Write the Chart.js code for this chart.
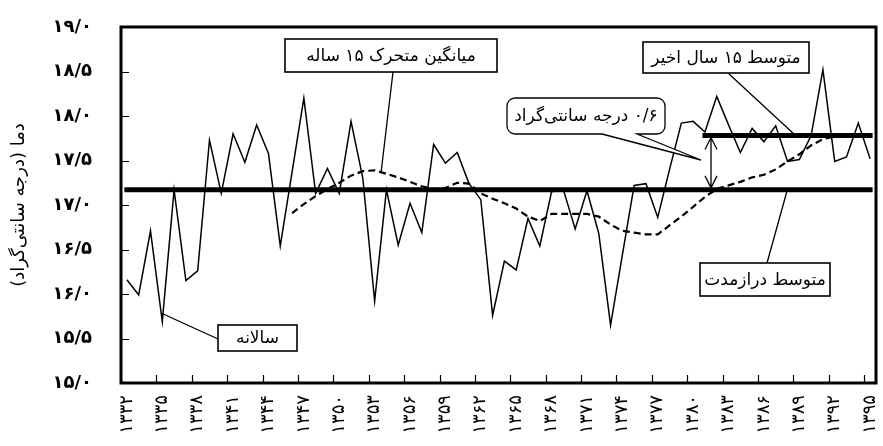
<!DOCTYPE html>
<html>
<head>
<meta charset="utf-8">
<script src="https://cdn.jsdelivr.net/npm/chart.js@4.4.1/dist/chart.umd.min.js"></script>
<style>
  html, body { margin: 0; padding: 0; background: #fff; }
  canvas { display: block; }
</style>
</head>
<body>
<canvas id="myChart" width="883" height="446" dir="rtl"></canvas>
<script>
// years 1332 .. 1395 (Persian calendar)
const years = [
  1332, 1333, 1334, 1335, 1336, 1337, 1338, 1339, 1340, 1341, 1342, 1343, 1344, 1345, 1346, 1347,
  1348, 1349, 1350, 1351, 1352, 1353, 1354, 1355, 1356, 1357, 1358, 1359, 1360, 1361, 1362, 1363,
  1364, 1365, 1366, 1367, 1368, 1369, 1370, 1371, 1372, 1373, 1374, 1375, 1376, 1377, 1378, 1379,
  1380, 1381, 1382, 1383, 1384, 1385, 1386, 1387, 1388, 1389, 1390, 1391, 1392, 1393, 1394, 1395
];

// annual mean temperature
const annual = [
  16.16, 15.99, 16.71, 15.69, 17.17, 16.15, 16.26, 17.73, 17.13, 17.80, 17.48, 17.90, 17.58, 16.54, 17.37, 18.20,
  17.13, 17.41, 17.13, 17.94, 17.30, 15.92, 17.17, 16.55, 17.02, 16.69, 17.68, 17.47, 17.59, 17.24, 17.06, 15.76,
  16.37, 16.27, 16.85, 16.54, 17.15, 17.17, 16.73, 17.16, 16.68, 15.65, 16.44, 17.22, 17.24, 16.86, 17.40, 17.92,
  17.94, 17.82, 18.22, 17.90, 17.59, 17.86, 17.71, 17.89, 17.49, 17.51, 17.78, 18.52, 17.49, 17.54, 17.92, 17.52
];

// 15 year moving average (starts at 1346)
const movingAvg = [
  null, null, null, null, null, null, null, null, null, null, null, null, null, null, 16.91, 17.01,
  17.10, 17.18, 17.25, 17.33, 17.38, 17.39, 17.35, 17.31, 17.26, 17.21, 17.18, 17.19, 17.25, 17.24, 17.13, 17.07,
  17.02, 16.96, 16.87, 16.82, 16.90, 16.90, 16.90, 16.90, 16.87, 16.78, 16.71, 16.69, 16.67, 16.67, 16.77, 16.87,
  16.98, 17.09, 17.18, 17.22, 17.26, 17.31, 17.34, 17.40, 17.49, 17.57, 17.67, 17.74, 17.77, 17.78, 17.79, 17.79
];

const longTermMean = 17.17;
const longTermSpan = ['1332', '1395'];
const recentMean = 17.78;
const recentSpan = ['1381', '1395'];

const yTicks = [15.0, 15.5, 16.0, 16.5, 17.0, 17.5, 18.0, 18.5, 19.0];

const faDigits = '۰۱۲۳۴۵۶۷۸۹';
const fa = s => String(s).replace(/\d/g, d => faDigits[d]);

const labels = years.map(String);
const FONT = 'DejaVu Sans';

// frame, inward tick marks, callouts
const decor = {
  id: 'decor',
  afterDraw(chart) {
    const ctx = chart.ctx;
    const a = chart.chartArea;
    const xs = chart.scales.x, ys = chart.scales.y;
    const step = xs.getPixelForValue(1) - xs.getPixelForValue(0);
    ctx.save();
    ctx.strokeStyle = '#000';

    // tick marks, pointing into the plot
    ctx.lineWidth = 1.2;
    ctx.beginPath();
    for (let i = 3; i < years.length; i += 3) {
      const x = Math.round(xs.getPixelForValue(i) - step / 2) + 0.5;
      ctx.moveTo(x, a.bottom);
      ctx.lineTo(x, a.bottom - 8);
    }
    yTicks.slice(1, -1).forEach(v => {
      const y = Math.round(ys.getPixelForValue(v)) + 0.5;
      ctx.moveTo(a.left, y);
      ctx.lineTo(a.left + 8, y);
    });
    ctx.stroke();

    // frame
    ctx.lineWidth = 3;
    ctx.strokeRect(a.left, a.top, a.right - a.left, a.bottom - a.top);

    // leader lines
    ctx.lineWidth = 1.3;
    const leaders = [
      [393, 72, 381, 173],
      [218, 339, 161, 313],
      [728, 73, 795, 135],
      [767, 263, 787, 191]
    ];
    ctx.beginPath();
    leaders.forEach(l => { ctx.moveTo(l[0], l[1]); ctx.lineTo(l[2], l[3]); });
    ctx.stroke();

    // double arrow between the two means
    const ax = 711;
    const yTop = ys.getPixelForValue(recentMean) + 2;
    const yBot = ys.getPixelForValue(longTermMean) - 2;
    ctx.beginPath();
    ctx.moveTo(ax, yTop); ctx.lineTo(ax, yBot);
    ctx.moveTo(ax - 6, yTop + 12); ctx.lineTo(ax, yTop); ctx.lineTo(ax + 6, yTop + 12);
    ctx.moveTo(ax - 6, yBot - 12); ctx.lineTo(ax, yBot); ctx.lineTo(ax + 6, yBot - 12);
    ctx.stroke();

    // rounded callout with wedge
    const c = { l: 507, r: 665, t: 98, b: 134, rad: 8 };
    ctx.beginPath();
    ctx.moveTo(c.l + c.rad, c.t);
    ctx.lineTo(c.r - c.rad, c.t);
    ctx.arcTo(c.r, c.t, c.r, c.t + c.rad, c.rad);
    ctx.lineTo(c.r, c.b - c.rad);
    ctx.arcTo(c.r, c.b, c.r - c.rad, c.b, c.rad);
    ctx.lineTo(637, c.b);
    ctx.lineTo(701, 160);
    ctx.lineTo(602, c.b);
    ctx.lineTo(c.l + c.rad, c.b);
    ctx.arcTo(c.l, c.b, c.l, c.b - c.rad, c.rad);
    ctx.lineTo(c.l, c.t + c.rad);
    ctx.arcTo(c.l, c.t, c.l + c.rad, c.t, c.rad);
    ctx.closePath();
    ctx.fillStyle = '#fff';
    ctx.fill();
    ctx.stroke();

    // square boxes
    const boxes = [
      { text: 'میانگین متحرک ۱۵ ساله', l: 285, r: 497, t: 39, b: 72 },
      { text: 'سالانه', l: 218, r: 297, t: 325, b: 351 },
      { text: 'متوسط ۱۵ سال اخیر', l: 643, r: 809, t: 42, b: 73 },
      { text: 'متوسط درازمدت', l: 700, r: 830, t: 263, b: 296 }
    ];
    ctx.lineWidth = 1.6;
    boxes.forEach(bx => {
      ctx.fillStyle = '#fff';
      ctx.fillRect(bx.l, bx.t, bx.r - bx.l, bx.b - bx.t);
      ctx.strokeRect(bx.l, bx.t, bx.r - bx.l, bx.b - bx.t);
    });

    ctx.fillStyle = '#000';
    ctx.font = '17px "' + FONT + '"';
    ctx.direction = 'rtl';
    ctx.textAlign = 'center';
    ctx.textBaseline = 'middle';
    boxes.forEach(bx => ctx.fillText(bx.text, (bx.l + bx.r) / 2, (bx.t + bx.b) / 2 + 1));
    ctx.fillText('۰/۶ درجه سانتی‌گراد', (c.l + c.r) / 2, (c.t + c.b) / 2 + 1);
    ctx.restore();
  }
};

new Chart(document.getElementById('myChart'), {
  type: 'line',
  data: {
    labels: labels,
    datasets: [
      {
        data: annual,
        borderColor: '#000',
        borderWidth: 1.5,
        pointRadius: 0,
        tension: 0
      },
      {
        data: movingAvg,
        borderColor: '#000',
        borderWidth: 2.2,
        borderDash: [7, 4],
        pointRadius: 0,
        tension: 0
      },
      {
        data: longTermSpan.map(x => ({ x: x, y: longTermMean })),
        borderColor: '#000',
        borderWidth: 5,
        borderCapStyle: 'square',
        pointRadius: 0
      },
      {
        data: recentSpan.map(x => ({ x: x, y: recentMean })),
        borderColor: '#000',
        borderWidth: 5,
        borderCapStyle: 'square',
        pointRadius: 0
      }
    ]
  },
  options: {
    responsive: false,
    animation: false,
    layout: { padding: { top: 27, right: 7, left: 0, bottom: 0 } },
    plugins: { legend: { display: false }, tooltip: { enabled: false } },
    scales: {
      x: {
        type: 'category',
        offset: true,
        grid: { display: false, drawTicks: false },
        border: { display: false },
        ticks: {
          autoSkip: false,
          minRotation: 90,
          maxRotation: 90,
          padding: 12,
          color: '#000',
          font: { family: FONT, size: 18 },
          callback: (v, i) => (i % 3 === 0 ? fa(years[i]) : '')
        },
        afterFit: s => { s.height = 63; s.paddingLeft = 0; s.paddingRight = 0; }
      },
      y: {
        min: 15,
        max: 19,
        afterBuildTicks: s => { s.ticks = yTicks.map(v => ({ value: v })); },
        grid: { display: false, drawTicks: false },
        border: { display: false },
        ticks: {
          padding: 29,
          color: '#000',
          font: { family: FONT, size: 18, weight: 'bold' },
          callback: v => fa(v.toFixed(1).replace('.', '/'))
        },
        title: {
          display: true,
          text: 'دما (درجه سانتی‌گراد)',
          color: '#000',
          font: { family: FONT, size: 18 },
          padding: { top: 9, bottom: 0 }
        },
        afterFit: s => { s.width = 121; s.paddingTop = 0; s.paddingBottom = 0; }
      }
    }
  },
  plugins: [decor]
});
</script>
</body>
</html>
